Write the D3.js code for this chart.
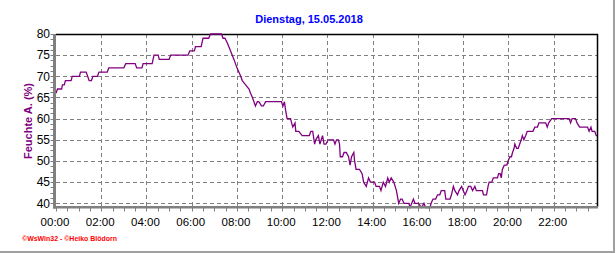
<!DOCTYPE html>
<html>
<head>
<meta charset="utf-8">
<script src="https://cdn.jsdelivr.net/npm/d3@7"></script>
<style>
html,body{margin:0;padding:0;background:#fff;}
svg{display:block;}
text{font-family:Arial,"Liberation Sans",sans-serif;}
</style>
</head>
<body>
<script>
const title = "Dienstag, 15.05.2018";
const yLabel = "Feuchte A.  (%)";
const footer = "\u00A9WsWin32  -  \u00A9Heiko Blödorn";
const xTickLabels = ["00:00","02:00","04:00","06:00","08:00","10:00","12:00","14:00","16:00","18:00","20:00","22:00"];
const yTicks = [40,45,50,55,60,65,70,75,80];

const times = ["00:00","00:04","00:15","00:17","00:22","00:25","00:40","00:43","01:02","01:05","01:20","01:28","01:34","01:38","01:50","01:54","02:16","02:20","03:00","03:05","03:30","03:34","03:48","03:51","04:15","04:20","04:31","04:34","05:00","05:04","05:50","05:55","06:07","06:10","06:25","06:30","06:45","06:50","07:19","07:23","07:28",
"07:34","07:43","07:52","08:00","08:10","08:14","08:23","08:32","08:36","08:41","08:49","08:54","08:58","09:05","09:10","09:16","09:58","10:02","10:06","10:09","10:13","10:22","10:28","10:34","10:36","10:44","10:53","11:12","11:16","11:21","11:26","11:29","11:36","11:40","11:47","11:51","11:56",
"12:02","12:16","12:20","12:24","12:29","12:32","12:34","12:40","12:44","12:50","12:56","13:00","13:04","13:10","13:12","13:16","13:25","13:32","13:36","13:43","13:49","13:54","14:05","14:09","14:18","14:22","14:28","14:34","14:40","14:44","14:49","14:56","15:03","15:09","15:14","15:18","15:23","15:36","15:39","15:48","15:52","16:02","16:09","16:16","16:20","16:32","16:35","16:40","16:47","16:52","16:58","17:02","17:11","17:14","17:25","17:29","17:34","17:38","17:45","17:49","17:56",
"18:00","18:05","18:10","18:14","18:20","18:25","18:31","18:35","18:51","18:54","19:02","19:06","19:09","19:16","19:20","19:31","19:34","19:38","19:41","19:44","19:49","19:56","19:59","20:04","20:08","20:11","20:15","20:17","20:22","20:26","20:30","20:34","20:37","20:41","20:46","20:50","21:05","21:10","21:17","21:21","21:39","21:43","21:47","21:55","22:41","22:45","22:49","22:58","23:02","23:09","23:30","23:34","23:39","23:42","23:49","23:53","23:55"];

const humidity = [66,67,67,68,68,69,69,70,70,71,71,69,69,70,70,71,71,72,72,73,73,72,72,73,73,75,75,74,74,75,75,76,76,77,77,79,79,80,80,79,79,
78,76,74,72,70,69,68,67,66,65,63,64,64,63,63,64,64,63,64,62,60,60,58,59,57,57,56,56,57,57,54,55,56,54,56,54,54,
55,55,54,55,55,54,51,51,52,52,51,49,51,52,50,48,48,47,45,44,46,45,45,44,44,43,45,44,46,45,46,45,43,40,41,41,40,40,39,41,40,40,39,40,39,39,40,41,41,42,42,43,43,41,41,42,44,43,42,43,44,
43,42,43,44,44,43,44,43,43,42,42,44,45,45,46,46,47,47,46,48,49,49,50,51,51,52,53,54,53,53,54,55,56,55,56,57,57,58,58,59,59,58,59,60,60,59,60,60,59,58,58,57,58,57,57,56,56];

const toMin = s => { const [h,m] = s.split(":").map(Number); return h*60+m; };
const data = times.map((t,i)=>({t:toMin(t), v:humidity[i]}));

const W=616,H=253;
const pL=56,pR=597,pT=34,pB=203.3;
const svg = d3.select("body").append("svg").attr("width",W).attr("height",H);
svg.append("rect").attr("width",W).attr("height",H).attr("fill","#fff");

const x = d3.scaleLinear().domain([0,1435]).range([pL,pR]);
const y = d3.scaleLinear().domain([40,80]).range([pB,pT]);

const gridColor="#808080";
svg.append("g").selectAll("line").data(yTicks.filter(d=>d<80)).join("line")
  .attr("x1",pL).attr("x2",pR).attr("y1",d=>Math.round(y(d))+0.5).attr("y2",d=>Math.round(y(d))+0.5)
  .attr("stroke",gridColor).attr("stroke-width",1).attr("stroke-dasharray","4,3");
const xTickVals = xTickLabels.map(toMin);
svg.append("g").selectAll("line").data(xTickVals.filter(d=>d>0)).join("line")
  .attr("x1",d=>Math.round(x(d))+0.5).attr("x2",d=>Math.round(x(d))+0.5).attr("y1",pT).attr("y2",207)
  .attr("stroke",gridColor).attr("stroke-width",1).attr("stroke-dasharray","4,3");

svg.append("line").attr("x1",pL).attr("x2",pR+1).attr("y1",pT+0.5).attr("y2",pT+0.5).attr("stroke","#000").attr("stroke-width",1.5);
svg.append("line").attr("x1",pR+0.5).attr("x2",pR+0.5).attr("y1",pT).attr("y2",207).attr("stroke","#000").attr("stroke-width",1.5);

const line = d3.line().x(d=>x(d.t)).y(d=>y(d.v));
svg.append("path").datum(data).attr("d",line).attr("fill","none").attr("stroke","#800080").attr("stroke-width",1.3).attr("stroke-linejoin","miter");

svg.append("rect").attr("x",53).attr("y",pT).attr("width",3).attr("height",208.5-pT).attr("fill","#808080");
svg.append("rect").attr("x",53).attr("y",206).attr("width",pR-53+1).attr("height",2.5).attr("fill","#808080");

const minor = d3.range(40,80.01,1.25);
svg.append("g").selectAll("line").data(minor).join("line")
  .attr("x1",50.5).attr("x2",53).attr("y1",d=>Math.round(y(d))+0.5).attr("y2",d=>Math.round(y(d))+0.5)
  .attr("stroke","#808080").attr("stroke-width",1);
svg.append("g").selectAll("line").data(d3.range(0,1436,30)).join("line")
  .attr("x1",d=>Math.round(x(d))+0.5).attr("x2",d=>Math.round(x(d))+0.5).attr("y1",208).attr("y2",211.5)
  .attr("stroke","#808080").attr("stroke-width",1);

svg.append("g").selectAll("text").data(yTicks).join("text")
  .attr("x",50).attr("y",d=>y(d)).attr("dy","0.36em").attr("text-anchor","end")
  .attr("font-size","12px").attr("fill","#000").text(d=>d);
svg.append("g").selectAll("text").data(xTickVals).join("text")
  .attr("x",d=>x(d)-1).attr("y",226).attr("text-anchor","middle")
  .attr("font-size","11.5px").attr("fill","#000").text((d,i)=>xTickLabels[i]);

svg.append("text").attr("x",309).attr("y",23).attr("text-anchor","middle")
  .attr("font-size","11px").attr("font-weight","bold").attr("fill","#0000ff").text(title);
svg.append("text").attr("transform","translate(32,121) rotate(-90)").attr("text-anchor","middle")
  .attr("font-size","11px").attr("font-weight","bold").attr("fill","#800080").text(yLabel);
svg.append("text").attr("x",22).attr("y",241).attr("font-size","7px").attr("font-weight","bold")
  .attr("fill","#ff0000").attr("textLength",95).attr("lengthAdjust","spacingAndGlyphs").text(footer);

svg.append("rect").attr("x",613).attr("y",0).attr("width",2).attr("height",253).attr("fill","#a0a0a0");
svg.append("rect").attr("x",0).attr("y",251).attr("width",615).attr("height",2).attr("fill","#a0a0a0");
</script>
</body>
</html>
